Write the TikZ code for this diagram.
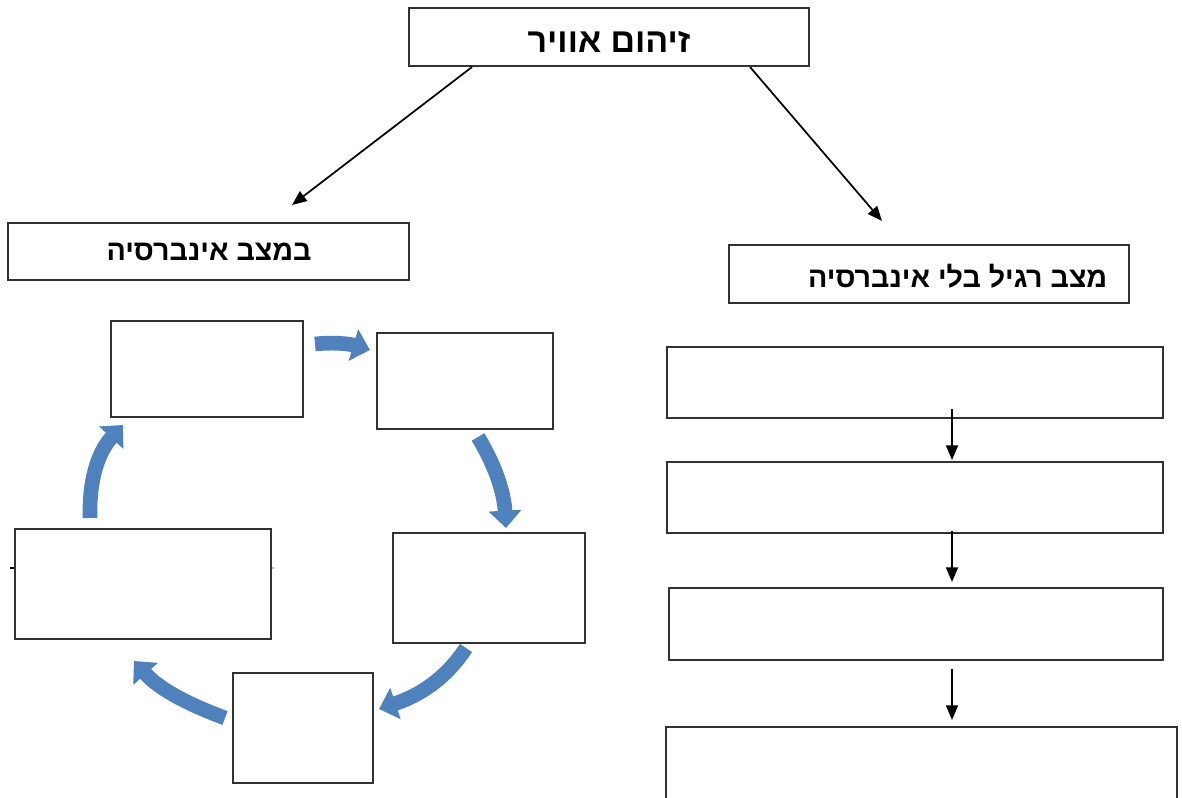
\documentclass[tikz,border=0pt]{standalone}
\usepackage{fontspec}
\usetikzlibrary{arrows.meta}
\TeXXeTstate=1
\newfontfamily\heb[Script=Hebrew,BoldFont={Liberation Sans Bold}]{Liberation Sans}
\definecolor{cycblue}{RGB}{79,129,189}
\begin{document}
\begin{tikzpicture}[x=0.75pt,y=-0.75pt,
  box/.style={draw=black!80,line width=1.1pt,fill=white},
  link/.style={draw=black,line width=1.3pt,-{Triangle[length=11pt,width=9pt]}},
  cyc/.style={draw=cycblue,line width=11pt,-{Triangle[length=13pt,width=24pt]}}]
\useasboundingbox (0,0) rectangle (1182,798);
% title and headers
\draw[box] (409,8) rectangle (809,66);
\node (title) at (609,42) {\heb\bfseries\fontsize{25.5}{30}\selectfont\beginR זיהום אוויר\endR};
\draw[box] (8,223) rectangle (409,280);
\node (left) at (209,252) {\heb\bfseries\fontsize{21.5}{26}\selectfont\beginR במצב אינברסיה\endR};
\draw[box] (729,245) rectangle (1129,303);
\node[anchor=east] (right) at (1112,276) {\heb\bfseries\fontsize{21.5}{26}\selectfont\beginR מצב רגיל בלי אינברסיה\endR};
\coordinate (t1) at (472,67); \coordinate (h1) at (292,205);
\coordinate (t2) at (750,67); \coordinate (h2) at (882,221);
\draw[link] (t1) -- (h1);
\draw[link] (t2) -- (h2);
% right column
\draw[box] (667,347) rectangle (1163,418);
\draw[box] (667,462) rectangle (1163,533);
\draw[box] (669,588) rectangle (1163,660);
\draw[box] (666,727) rectangle (1177,805);
\coordinate (v1a) at (952,409); \coordinate (v1b) at (952,460);
\coordinate (v2a) at (952,531); \coordinate (v2b) at (952,582);
\coordinate (v3a) at (952,669); \coordinate (v3b) at (952,720);
\draw[link] (v1a) -- (v1b);
\draw[link] (v2a) -- (v2b);
\draw[link] (v3a) -- (v3b);
% cycle boxes
\draw[box] (111,321) rectangle (303,417);
\draw[box] (377,333) rectangle (553,429);
\draw[box] (393,533) rectangle (585,643);
\draw[box] (233,673) rectangle (373,783);
\draw[black,line width=1.3pt] (10,568) -- (15,568);
\draw[black!30,line width=1pt] (271,568) -- (274,568);
\draw[box] (15,529) rectangle (271,639);
% cycle arrows
\draw[cyc] (315,344) .. controls (335,342) and (350,344) .. (370,350);
\draw[cyc] (478,437) .. controls (495,465) and (504,492) .. (506,528);
\draw[cyc] (466,648) .. controls (445,680) and (418,696) .. (379,709);
\draw[cyc] (225,718) .. controls (190,705) and (160,690) .. (134,661);
\draw[cyc] (90,518) .. controls (89,480) and (98,452) .. (123,425);
\end{tikzpicture}
\end{document}
